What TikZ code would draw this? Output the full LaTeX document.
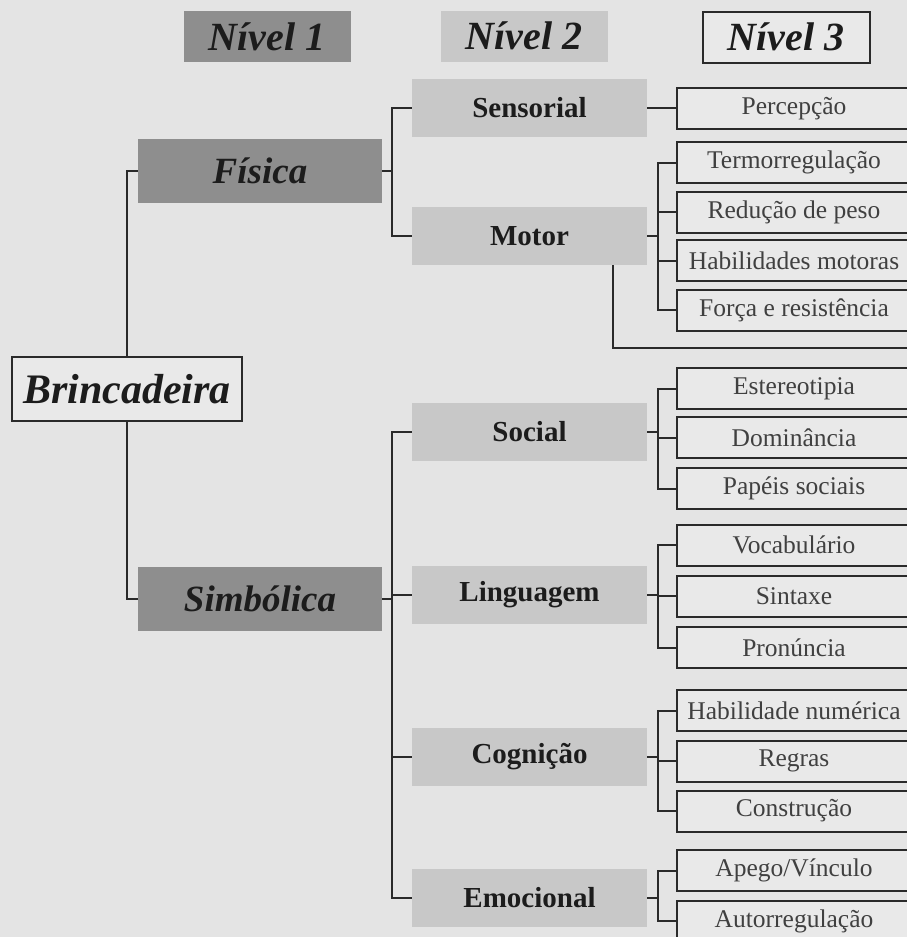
\documentclass[tikz,border=0pt]{standalone}
\usepackage{fontspec}
\setmainfont{Liberation Serif}
\definecolor{PageGray}{HTML}{E4E4E4}
\definecolor{LeafFill}{HTML}{E9E9E9}
\definecolor{BoxDark}{HTML}{8E8E8E}
\definecolor{BoxLight}{HTML}{C8C8C8}
\definecolor{LineDark}{HTML}{2A2A2A}
\definecolor{InkDark}{HTML}{1C1C1C}
\definecolor{InkGray}{HTML}{404040}
\usepackage{tikz}

\begin{document}
\begin{tikzpicture}[x=1pt, y=-1pt,
    head/.style={rectangle, fill=#1, minimum width=167pt, minimum height=51pt, inner sep=0pt,
      text=InkDark, font=\fontsize{40}{44}\selectfont\bfseries\itshape},
    top/.style={rectangle, draw=LineDark, line width=2pt, fill=LeafFill, minimum width=230pt,
      minimum height=64pt, inner sep=0pt, text=InkDark, font=\fontsize{42}{46}\selectfont\bfseries\itshape},
    dark/.style={rectangle, fill=BoxDark, minimum width=244pt, minimum height=64pt, inner sep=0pt,
      text=InkDark, font=\fontsize{37}{40}\selectfont\bfseries\itshape},
    mid/.style={rectangle, fill=BoxLight, minimum width=235pt, minimum height=58pt, inner sep=0pt,
      text=InkDark, font=\fontsize{29}{32}\selectfont\bfseries},
    leaf/.style={rectangle, draw=LineDark, line width=2pt, fill=LeafFill, minimum width=234pt,
      minimum height=41pt, inner sep=0pt, text=InkGray, font=\fontsize{25.5}{28}\selectfont},
    link/.style={draw=LineDark, line width=2pt}]
  \useasboundingbox (0,0) rectangle (907,937);
  \clip (0,0) rectangle (907,937);
  \fill[PageGray] (0,0) rectangle (907,937);

  \node[head=BoxDark] (n1) at (267,36.5) {Nível 1};
  \node[head=BoxLight] (n2) at (524,36) {Nível 2};
  \node[head=LeafFill, draw=LineDark, line width=2pt] (n3) at (786,37) {Nível 3};

  \node[top] (brin) at (127,389) {Brincadeira};
  \node[dark] (fis) at (260,170.5) {Física};
  \node[dark] (simb) at (260,598.5) {Simbólica};

  \node[mid] (sens) at (529.5,107.5) {Sensorial};
  \node[mid] (mot) at (529.5,236) {Motor};
  \node[mid] (soc) at (529.5,431.5) {Social};
  \node[mid] (ling) at (529.5,595) {Linguagem};
  \node[mid] (cog) at (529.5,757) {Cognição};
  \node[mid] (emo) at (529.5,898) {Emocional};

  \node[leaf] (perc) at (794,108.5) {Percepção};
  \node[leaf] (ter) at (794,162.5) {Termorregulação};
  \node[leaf] (red) at (794,212) {Redução de peso};
  \node[leaf] (hab) at (794,260.5) {Habilidades motoras};
  \node[leaf] (for) at (794,310) {Força e resistência};
  \node[leaf] (est) at (794,388.5) {Estereotipia};
  \node[leaf] (dom) at (794,437.5) {Dominância};
  \node[leaf] (pap) at (794,488.5) {Papéis sociais};
  \node[leaf] (voc) at (794,545) {Vocabulário};
  \node[leaf] (sin) at (794,596) {Sintaxe};
  \node[leaf] (pro) at (794,647.5) {Pronúncia};
  \node[leaf] (num) at (794,710.5) {Habilidade numérica};
  \node[leaf] (reg) at (794,761) {Regras};
  \node[leaf] (con) at (794,811) {Construção};
  \node[leaf] (ape) at (794,870.5) {Apego/Vínculo};
  \node[leaf] (aut) at (794,921) {Autorregulação};

  \draw[link] (brin.north) |- (fis.west);
  \draw[link] (brin.south) |- (simb.west);
  \foreach \c in {sens,mot} \draw[link] (fis.east) -- ++(10,0) |- (\c.west);
  \foreach \c in {soc,ling,cog,emo} \draw[link] (simb.east) -- ++(10,0) |- (\c.west);

  \draw[link] (sens.east) -- (sens.east -| perc.west);
  \foreach \c in {ter,red,hab,for} \draw[link] (mot.east) -- ++(11,0) |- (\c.west);
  \foreach \c in {est,dom,pap} \draw[link] (soc.east) -- ++(11,0) |- (\c.west);
  \foreach \c in {voc,sin,pro} \draw[link] (ling.east) -- ++(11,0) |- (\c.west);
  \foreach \c in {num,reg,con} \draw[link] (cog.east) -- ++(11,0) |- (\c.west);
  \foreach \c in {ape,aut} \draw[link] (emo.east) -- ++(11,0) |- (\c.west);

  \coordinate (mtail) at (613,348);
  \coordinate (mend) at (912,348);
  \draw[link] (mot.south -| mtail) -- (mtail) -- (mend);
\end{tikzpicture}
\end{document}
